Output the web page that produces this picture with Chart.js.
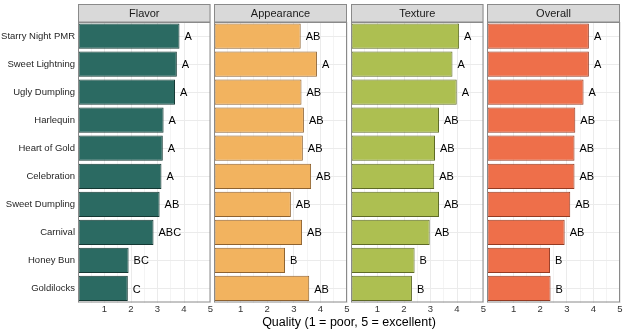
<!DOCTYPE html>
<html>
<head>
<meta charset="utf-8">
<script src="https://cdn.jsdelivr.net/npm/chart.js@4"></script>
<style>
  body { margin: 0; background: #fff; }
  #wrap { position: relative; width: 624px; height: 333px; overflow: hidden; }
  canvas { position: absolute; top: 0; }
  #xtitle { position: absolute; left: 78px; width: 542px; top: 315px; text-align: center;
            font: 12.5px "Liberation Sans", Arial, sans-serif; color: #000; }
</style>
</head>
<body>
<div id="wrap">
  <canvas id="c0"></canvas>
  <canvas id="c1"></canvas>
  <canvas id="c2"></canvas>
  <canvas id="c3"></canvas>
  <div id="xtitle">Quality (1 = poor, 5 = excellent)</div>
</div>
<script>
const varieties = ["Starry Night PMR", "Sweet Lightning", "Ugly Dumpling", "Harlequin", "Heart of Gold",
                   "Celebration", "Sweet Dumpling", "Carnival", "Honey Bun", "Goldilocks"];
const panels = ["Flavor", "Appearance", "Texture", "Overall"];

const flavor = [3.83, 3.73, 3.66, 3.23, 3.2, 3.15, 3.08, 2.85, 1.91, 1.88];
const appearance = [3.26, 3.87, 3.29, 3.38, 3.34, 3.65, 2.89, 3.31, 2.67, 3.58];
const texture = [4.08, 3.83, 3.99, 3.32, 3.17, 3.14, 3.32, 2.97, 2.4, 2.3];
const overall = [3.83, 3.83, 3.63, 3.32, 3.29, 3.29, 3.13, 2.92, 2.37, 2.39];

const flavorLetters = ["A", "A", "A", "A", "A", "A", "AB", "ABC", "BC", "C"];
const appearanceLetters = ["AB", "A", "AB", "AB", "AB", "AB", "AB", "AB", "B", "AB"];
const textureLetters = ["A", "A", "A", "AB", "AB", "AB", "AB", "AB", "B", "B"];
const overallLetters = ["A", "A", "A", "AB", "AB", "AB", "AB", "AB", "B", "B"];

const xTicks = [1, 2, 3, 4, 5];

const values = [flavor, appearance, texture, overall];
const letters = [flavorLetters, appearanceLetters, textureLetters, overallLetters];
const fills = ["#2b6a62", "#f2b35f", "#adbf51", "#ee6f4a"];
const edges = ["#143833", "#8e6230", "#5e6a25", "#943a22"];

// plot area of each facet (px)
const plotLeft = [78, 214, 351, 487];
const plotRight = [210.5, 347, 483.5, 620];
const FONT = '"Liberation Sans", Arial, sans-serif';

// strip + panel border + letter labels
const facetPlugin = {
  id: "facet",
  beforeDraw(chart) {
    const { ctx, chartArea: a } = chart;
    ctx.save();
    ctx.fillStyle = "#d9d9d9";
    ctx.fillRect(a.left, 4, a.right - a.left, a.top - 4);
    ctx.strokeStyle = "#8a8a8a";
    ctx.lineWidth = 1;
    ctx.strokeRect(a.left + 0.5, 4.5, a.right - a.left - 1, a.top - 4.5);
    ctx.fillStyle = "#1a1a1a";
    ctx.font = "11px " + FONT;
    ctx.textAlign = "center";
    ctx.textBaseline = "middle";
    ctx.fillText(chart.options.plugins.facet.title, (a.left + a.right) / 2, (4 + a.top) / 2 + 1);
    ctx.restore();
  },
  afterDraw(chart) {
    const { ctx, chartArea: a } = chart;
    ctx.save();
    ctx.strokeStyle = "#8a8a8a";
    ctx.lineWidth = 1;
    ctx.strokeRect(a.left + 0.5, a.top + 0.5, a.right - a.left - 1, a.bottom - a.top - 1);
    ctx.restore();
  },
  afterDatasetsDraw(chart) {
    const { ctx } = chart;
    const labs = chart.options.plugins.facet.letters;
    ctx.save();
    ctx.fillStyle = "#000";
    ctx.font = "11px " + FONT;
    ctx.textAlign = "left";
    ctx.textBaseline = "middle";
    chart.getDatasetMeta(0).data.forEach((bar, i) => {
      ctx.fillText(labs[i], bar.x + 5, bar.y + 1);
    });
    ctx.restore();
  }
};

for (let p = 0; p < 4; p++) {
  const first = p === 0;
  const left = first ? 0 : plotLeft[p] - 2;
  const width = Math.ceil(plotRight[p] + 8 - left);
  const cv = document.getElementById("c" + p);
  cv.width = width;
  cv.height = 333;
  cv.style.left = left + "px";
  cv.style.width = width + "px";
  cv.style.height = "333px";

  new Chart(cv, {
    type: "bar",
    data: {
      labels: varieties,
      datasets: [{
        data: values[p],
        backgroundColor: fills[p],
        borderColor: edges[p],
        borderWidth: 1,
        borderSkipped: false,
        barPercentage: 0.9,
        categoryPercentage: 1
      }]
    },
    plugins: [facetPlugin],
    options: {
      indexAxis: "y",
      responsive: false,
      animation: false,
      devicePixelRatio: 1,
      layout: { padding: { left: first ? 0 : 2, right: width - (plotRight[p] - left), top: 22, bottom: 0 } },
      plugins: {
        legend: { display: false },
        tooltip: { enabled: false },
        facet: { title: panels[p], letters: letters[p] }
      },
      scales: {
        x: {
          min: 0, max: 5,
          border: { display: false },
          grid: {
            drawTicks: false,
            color: ctx => (ctx.tick && Number.isInteger(ctx.tick.value)) ? "#ebebeb" : "#f4f4f4"
          },
          ticks: {
            stepSize: 0.5,
            autoSkip: false,
            maxRotation: 0,
            padding: 1,
            color: "#333",
            font: { family: FONT, size: 9.5 },
            callback: v => xTicks.includes(v) ? String(v) : ""
          },
          afterFit: s => { s.height = 333 - 302.5; }
        },
        y: {
          border: { display: false },
          grid: { drawTicks: false, offset: false, color: "#ebebeb" },
          ticks: {
            display: first,
            padding: 3,
            color: "#1f1f1f",
            font: { family: FONT, size: 9.5 }
          },
          afterFit: s => { s.width = first ? 78 : 0; }
        }
      }
    }
  });
}
</script>
</body>
</html>
